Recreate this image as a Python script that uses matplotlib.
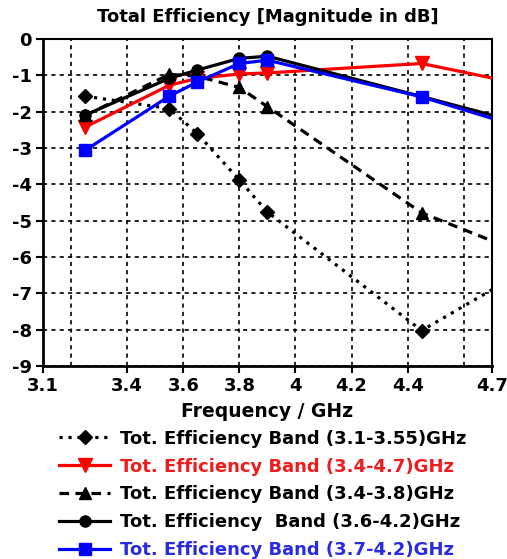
import matplotlib
matplotlib.use("Agg")
import matplotlib.pyplot as plt
from matplotlib.ticker import FixedLocator

plt.rcParams['font.family'] = ['DejaVu Sans']
plt.rcParams['font.weight'] = 'bold'

freq = [3.25, 3.55, 3.65, 3.8, 3.9, 4.45, 4.7]
band_31_355 = [-1.57, -1.91, -2.60, -3.88, -4.76, -8.02, -6.90]
band_34_47 = [-2.42, -1.27, -1.08, -0.96, -0.93, -0.67, -1.07]
band_34_38 = [-2.10, -0.97, -1.02, -1.33, -1.86, -4.78, -5.55]
band_36_42 = [-2.09, -1.08, -0.85, -0.53, -0.47, -1.58, -2.09]
band_37_42 = [-3.06, -1.57, -1.18, -0.67, -0.58, -1.59, -2.18]

labels = ["Tot. Efficiency Band (3.1-3.55)GHz",
          "Tot. Efficiency Band (3.4-4.7)GHz",
          "Tot. Efficiency Band (3.4-3.8)GHz",
          "Tot. Efficiency  Band (3.6-4.2)GHz",
          "Tot. Efficiency Band (3.7-4.2)GHz"]
label_colors = ["black", "#ee1c1c", "black", "black", "#2a2ae0"]

xticks = [3.1, 3.4, 3.6, 3.8, 4.0, 4.2, 4.4, 4.7]
xtick_labels = ["3.1", "3.4", "3.6", "3.8", "4", "4.2", "4.4", "4.7"]
xgrid = [3.2, 3.4, 3.6, 3.8, 4.0, 4.2, 4.4, 4.6]
yticks = [0, -1, -2, -3, -4, -5, -6, -7, -8, -9]

fig = plt.figure(figsize=(5.07, 5.59), dpi=100)
ax = fig.add_axes([0.085, 0.345, 0.885, 0.585])

ax.set_xlim(3.1, 4.7)
ax.set_ylim(-9, 0)

lw = 2.3
ax.plot(freq, band_31_355, color='black', lw=lw, linestyle=(0, (1, 1.8)),
        marker='D', ms=7, markevery=list(range(6)), label=labels[0], zorder=3)
ax.plot(freq, band_34_47, color='#ff0000', lw=lw, linestyle='-',
        marker='v', ms=9.5, markevery=list(range(6)), label=labels[1], zorder=3)
ax.plot(freq, band_34_38, color='black', lw=lw, linestyle=(0, (3, 2)),
        marker='^', ms=9, markevery=list(range(6)), label=labels[2], zorder=3)
ax.plot(freq, band_36_42, color='black', lw=lw, linestyle='-',
        marker='o', ms=8, markevery=list(range(6)), label=labels[3], zorder=3)
ax.plot(freq, band_37_42, color='#0000ff', lw=lw, linestyle='-',
        marker='s', ms=8.5, markevery=list(range(6)), label=labels[4], zorder=3)

ax.xaxis.remove_overlapping_locs = False
ax.set_xticks(xticks)
ax.set_xticklabels(xtick_labels)
ax.xaxis.set_minor_locator(FixedLocator(xgrid))
ax.set_yticks(yticks)
ax.set_yticklabels([str(v) for v in yticks])
ax.tick_params(axis='both', which='major', labelsize=13, length=5, width=1.5,
               direction='out', pad=3, colors='black')
ax.tick_params(axis='x', which='minor', length=0)
ax.grid(False)
ax.grid(True, axis='x', which='minor', color='black', linestyle=(0, (2.5, 2.5)), lw=1.2)
ax.grid(True, axis='y', which='major', color='black', linestyle=(0, (2.5, 2.5)), lw=1.2)
for t in ax.get_xticklabels() + ax.get_yticklabels():
    t.set_fontweight('bold')

for s in ['left', 'bottom']:
    ax.spines[s].set_linewidth(2)
for s in ['top', 'right']:
    ax.spines[s].set_linewidth(1.5)

ax.set_title("Total Efficiency [Magnitude in dB]", fontsize=13, fontweight='bold', pad=12)
ax.set_xlabel("Frequency / GHz", fontsize=13.5, fontweight='bold', labelpad=5)

leg = ax.legend(loc='upper center', bbox_to_anchor=(0.49, -0.172), frameon=False,
                fontsize=13, handlelength=2.8, labelspacing=0.55, handletextpad=0.55,
                borderaxespad=0)
for txt, c in zip(leg.get_texts(), label_colors):
    txt.set_color(c)
    txt.set_fontweight('bold')

fig.savefig("out.png", dpi=100)
